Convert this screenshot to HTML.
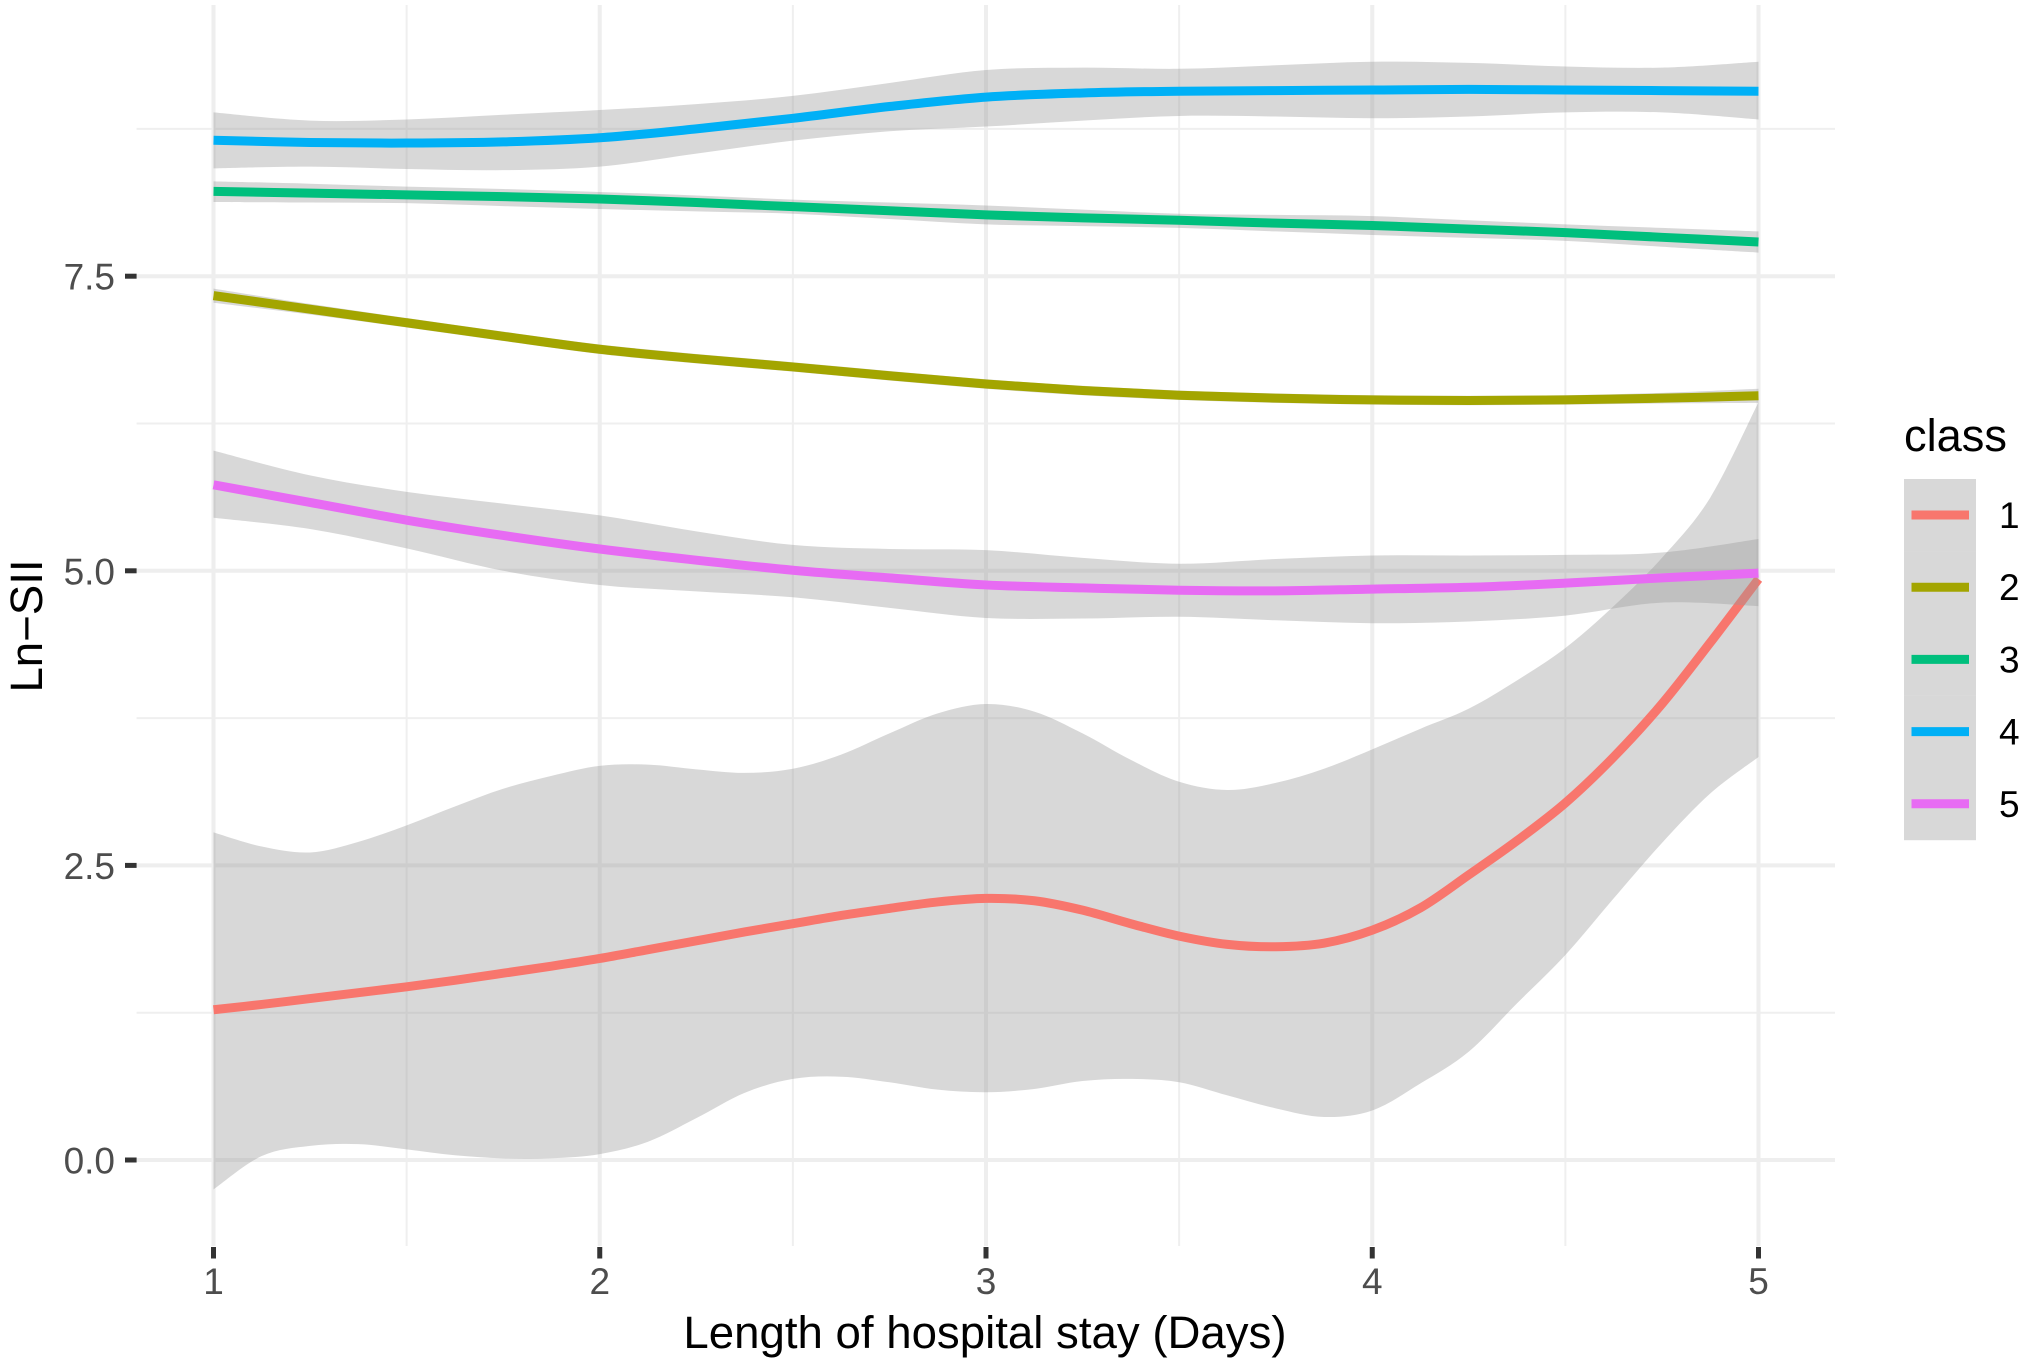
<!DOCTYPE html>
<html lang="en">
<head>
<meta charset="utf-8">
<title>Ln-SII by length of hospital stay</title>
<style>
html,body{margin:0;padding:0;background:#fff;}
svg{display:block;}
text{font-family:"Liberation Sans",Arial,sans-serif;}
</style>
</head>
<body>
<svg id="chart" xmlns="http://www.w3.org/2000/svg" width="2022" height="1362" viewBox="0 0 2022 1362">
  <rect x="0" y="0" width="2022" height="1362" fill="#ffffff"/>
  <g id="grid"></g>
  <g id="marks"></g>
  <g id="axes"></g>
  <text x="985" y="1348" text-anchor="middle" font-size="45.6" fill="#000000">Length of hospital stay (Days)</text>
  <text transform="translate(42,626) rotate(-90)" text-anchor="middle" font-size="45.6" fill="#000000">Ln−SII</text>
  <g id="legend">
    <text x="1904" y="451" font-size="45.2" fill="#000000">class</text>
  </g>
</svg>
<script>
// Data
const xGrid = [1,1.25,1.5,1.75,2,2.25,2.5,2.75,3,3.25,3.5,3.75,4,4.25,4.5,4.75,5];
const xGridClass1 = [1,1.125,1.25,1.375,1.5,1.625,1.75,1.875,2,2.125,2.25,2.375,2.5,2.625,2.75,2.875,3,3.125,3.25,3.375,3.5,3.625,3.75,3.875,4,4.125,4.25,4.375,4.5,4.625,4.75,4.875,5];

const mean1  = [1.275,1.32,1.37,1.42,1.47,1.525,1.585,1.645,1.71,1.785,1.86,1.935,2.005,2.075,2.135,2.19,2.22,2.2,2.12,2.005,1.90,1.83,1.81,1.84,1.95,2.14,2.42,2.71,3.03,3.42,3.87,4.39,4.93];
const lower1 = [-0.25,0.034,0.12,0.135,0.09,0.04,0.014,0.015,0.05,0.155,0.355,0.57,0.688,0.707,0.66,0.597,0.575,0.603,0.67,0.688,0.66,0.548,0.438,0.365,0.42,0.65,0.92,1.33,1.74,2.22,2.69,3.11,3.42];
const upper1 = [2.78,2.66,2.61,2.70,2.84,3.0,3.15,3.26,3.345,3.355,3.315,3.285,3.32,3.44,3.62,3.79,3.87,3.805,3.62,3.395,3.21,3.14,3.20,3.32,3.485,3.66,3.83,4.07,4.345,4.70,5.11,5.62,6.43];

const mean2  = [7.335,7.22,7.105,6.99,6.88,6.80,6.73,6.655,6.585,6.53,6.49,6.465,6.45,6.445,6.45,6.465,6.485];
const lower2 = [7.275,7.175,7.065,6.95,6.84,6.76,6.69,6.615,6.545,6.49,6.45,6.425,6.41,6.405,6.41,6.42,6.425];
const upper2 = [7.395,7.265,7.145,7.03,6.92,6.84,6.77,6.695,6.625,6.57,6.53,6.505,6.49,6.485,6.49,6.51,6.545];

const mean3  = [8.22,8.205,8.19,8.175,8.155,8.125,8.09,8.055,8.02,7.995,7.975,7.95,7.93,7.90,7.87,7.83,7.79];
const lower3 = [8.13,8.125,8.12,8.095,8.07,8.05,8.03,7.985,7.94,7.925,7.91,7.88,7.85,7.825,7.80,7.75,7.70];
const upper3 = [8.305,8.285,8.26,8.24,8.215,8.185,8.15,8.125,8.10,8.065,8.03,8.02,8.01,7.975,7.94,7.91,7.88];

const mean4  = [8.654,8.635,8.63,8.64,8.675,8.75,8.84,8.94,9.02,9.055,9.07,9.075,9.08,9.085,9.08,9.075,9.07];
const lower4 = [8.415,8.43,8.41,8.40,8.43,8.54,8.65,8.73,8.77,8.82,8.86,8.855,8.84,8.855,8.89,8.89,8.83];
const upper4 = [8.89,8.82,8.83,8.87,8.91,8.96,9.03,9.14,9.25,9.27,9.26,9.29,9.32,9.31,9.28,9.27,9.32];

const mean5  = [5.73,5.58,5.43,5.30,5.185,5.09,5.005,4.94,4.88,4.855,4.835,4.83,4.845,4.86,4.895,4.94,4.98];
const lower5 = [5.45,5.355,5.19,5.0,4.88,4.825,4.775,4.685,4.60,4.595,4.61,4.58,4.555,4.57,4.62,4.73,4.70];
const upper5 = [6.02,5.81,5.67,5.57,5.47,5.335,5.22,5.185,5.175,5.11,5.06,5.10,5.13,5.13,5.135,5.155,5.27];

const classLabels = ["1","2","3","4","5"];
const classColors = ["#F8766D","#A3A500","#00BF7D","#00B0F6","#E76BF3"];
const xSeries     = [xGridClass1,xGrid,xGrid,xGrid,xGrid];
const meanSeries  = [mean1,mean2,mean3,mean4,mean5];
const lowerSeries = [lower1,lower2,lower3,lower4,lower5];
const upperSeries = [upper1,upper2,upper3,upper4,upper5];

const xTickValues = [1,2,3,4,5];
const xTickLabels = ["1","2","3","4","5"];
const xMinorValues = [1.5,2.5,3.5,4.5];
const yTickValues = [0,2.5,5,7.5];
const yTickLabels = ["0.0","2.5","5.0","7.5"];
const yMinorValues = [1.25,3.75,6.25,8.75];

// Axis functions
const panelLeft = 136.6, panelRight = 1835, panelTop = 5, panelBottom = 1246;
function xScale(v){ return 213.5 + (v - 1) * 386.25; }
function yScale(v){ return 1160 - v * 117.84; }

const NS = "http://www.w3.org/2000/svg";
function make(tag, attrs, parent){
  const el = document.createElementNS(NS, tag);
  for (const k in attrs) el.setAttribute(k, attrs[k]);
  parent.appendChild(el);
  return el;
}
function toPoints(xs, ys){
  return xs.map(function(x, i){ return [xScale(x), yScale(ys[i])]; });
}
function curveSegments(p){
  let d = "";
  for (let i = 0; i < p.length - 1; i++){
    const p0 = p[Math.max(i - 1, 0)], p1 = p[i], p2 = p[i + 1], p3 = p[Math.min(i + 2, p.length - 1)];
    const c1x = p1[0] + (p2[0] - p0[0]) / 6, c1y = p1[1] + (p2[1] - p0[1]) / 6;
    const c2x = p2[0] - (p3[0] - p1[0]) / 6, c2y = p2[1] - (p3[1] - p1[1]) / 6;
    d += "C" + c1x.toFixed(2) + " " + c1y.toFixed(2) + " " + c2x.toFixed(2) + " " + c2y.toFixed(2) + " " + p2[0].toFixed(2) + " " + p2[1].toFixed(2);
  }
  return d;
}
function linePath(xs, ys){
  const p = toPoints(xs, ys);
  return "M" + p[0][0].toFixed(2) + " " + p[0][1].toFixed(2) + curveSegments(p);
}
function ribbonPath(xs, lo, hi){
  const up = toPoints(xs, hi);
  const down = toPoints(xs, lo).reverse();
  return "M" + up[0][0].toFixed(2) + " " + up[0][1].toFixed(2) + curveSegments(up) +
         "L" + down[0][0].toFixed(2) + " " + down[0][1].toFixed(2) + curveSegments(down) + "Z";
}

const gridGroup = document.getElementById("grid");
const marksGroup = document.getElementById("marks");
const axesGroup = document.getElementById("axes");
const legendGroup = document.getElementById("legend");

// Gridlines
yMinorValues.forEach(function(v){
  const el = make("line", {x1:panelLeft, x2:panelRight, y1:yScale(v), y2:yScale(v), stroke:"#efefef", "stroke-width":2}, gridGroup);
  
  
});
xMinorValues.forEach(function(v){
  const el = make("line", {x1:xScale(v), x2:xScale(v), y1:panelTop, y2:panelBottom, stroke:"#efefef", "stroke-width":2}, gridGroup);
  
  
});
yTickValues.forEach(function(v){
  const el = make("line", {x1:panelLeft, x2:panelRight, y1:yScale(v), y2:yScale(v), stroke:"#eeeeee", "stroke-width":4}, gridGroup);
  
  
});
xTickValues.forEach(function(v){
  const el = make("line", {x1:xScale(v), x2:xScale(v), y1:panelTop, y2:panelBottom, stroke:"#eeeeee", "stroke-width":4}, gridGroup);
  
  
});

// Series: ribbon then line for each class, in class order
classLabels.forEach(function(label, i){
  const band = make("path", {d:ribbonPath(xSeries[i], lowerSeries[i], upperSeries[i]), fill:"#999999", "fill-opacity":0.38, stroke:"none"}, marksGroup);
  
  
  const line = make("path", {d:linePath(xSeries[i], meanSeries[i]), fill:"none", stroke:classColors[i], "stroke-width":9}, marksGroup);
  
  
});

// Axis ticks and labels
yTickValues.forEach(function(v, i){
  const tick = make("line", {x1:125, x2:136.6, y1:yScale(v), y2:yScale(v), stroke:"#333333", "stroke-width":5}, axesGroup);
  
  
  const t = make("text", {x:115, y:yScale(v) + 13.5, "text-anchor":"end", "font-size":37, fill:"#4d4d4d"}, axesGroup);
  t.textContent = yTickLabels[i];
  
  
});
xTickValues.forEach(function(v, i){
  const tick = make("line", {x1:xScale(v), x2:xScale(v), y1:1247, y2:1258.5, stroke:"#333333", "stroke-width":5}, axesGroup);
  
  
  const t = make("text", {x:xScale(v), y:1294, "text-anchor":"middle", "font-size":37, fill:"#4d4d4d"}, axesGroup);
  t.textContent = xTickLabels[i];
  
  
});

// Legend
classLabels.forEach(function(label, i){
  const top = 479 + i * 72.2;
  const key = make("rect", {x:1904, y:top, width:72, height:72.4, fill:"#d8d8d8"}, legendGroup);
  
  
  const swatch = make("line", {x1:1911.5, x2:1969, y1:top + 36, y2:top + 36, stroke:classColors[i], "stroke-width":9}, legendGroup);
  
  
  const t = make("text", {x:1999, y:top + 49, "font-size":37, fill:"#000000"}, legendGroup);
  t.textContent = label;
  
  
});
</script>
</body>
</html>
